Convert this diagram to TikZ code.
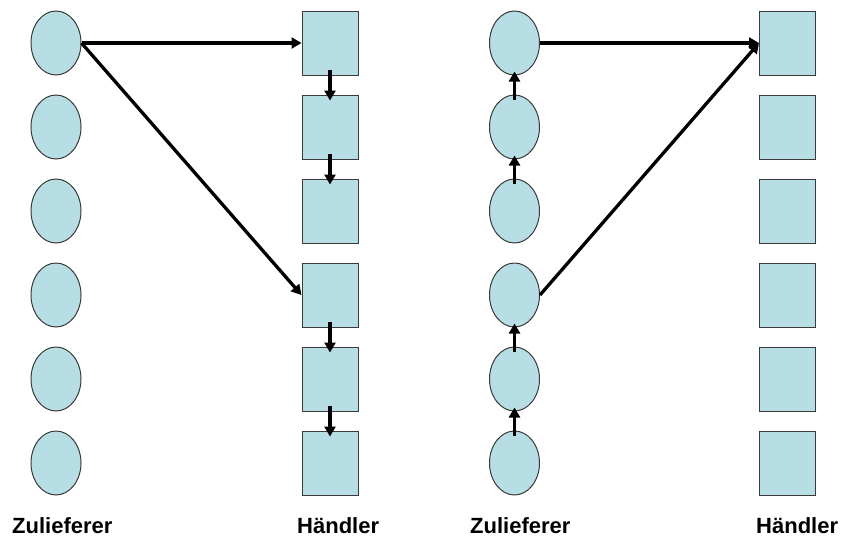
\documentclass[tikz,border=0pt]{standalone}
\usepackage{fontspec}
\setmainfont{Liberation Sans}
\usetikzlibrary{shapes.geometric,arrows.meta}
\definecolor{nodefill}{RGB}{183,222,228}
\definecolor{nodeline}{RGB}{58,58,58}
\tikzset{
  supplier/.style={ellipse,draw=nodeline,fill=nodefill,line width=1pt,
    minimum width=50pt,minimum height=64pt,inner sep=0pt},
  dealer/.style={rectangle,draw=nodeline,fill=nodefill,line width=1pt,
    minimum width=56pt,minimum height=64pt,inner sep=0pt},
  flow/.style={line width=3.3pt,black,-{Triangle[length=10pt,width=11pt]}},
  caption/.style={anchor=base west,inner sep=0pt,font=\fontsize{22}{24}\selectfont\bfseries}
}
\begin{document}
\begin{tikzpicture}[x=1pt,y=-1pt]
\useasboundingbox (0,0) rectangle (841,536);
% columns of suppliers (ellipses) and dealers (squares)
\foreach \i in {1,...,6}{
  \pgfmathsetmacro{\yy}{43+84*(\i-1)}
  \node[supplier] (la\i) at (56,\yy) {};
  \node[dealer]   (lb\i) at (330,\yy) {};
  \node[supplier] (ra\i) at (514.5,\yy) {};
  \node[dealer]   (rb\i) at (787.5,\yy) {};
}
% left arrangement
\draw[flow] (la1.east) -- (lb1.west);
\draw[flow] (la1.east) -- (lb4.west);
\foreach \a/\b in {1/2,2/3,4/5,5/6}
  \draw[flow] ([yshift=6pt]lb\a.south) -- ([yshift=-6pt]lb\b.north);
% right arrangement
\draw[flow] (ra1.east) -- (rb1.west);
\draw[flow] (ra4.east) -- (rb1.west);
\foreach \a/\b in {2/1,3/2,5/4,6/5}
  \draw[flow] ([yshift=-5pt]ra\a.north) -- ([yshift=4pt]ra\b.south);
% captions
\node[caption] (c1) at (12,533) {Zulieferer};
\node[caption] (c2) at (297,533) {Händler};
\node[caption] (c3) at (470,533) {Zulieferer};
\node[caption] (c4) at (756,533) {Händler};
\end{tikzpicture}
\end{document}
